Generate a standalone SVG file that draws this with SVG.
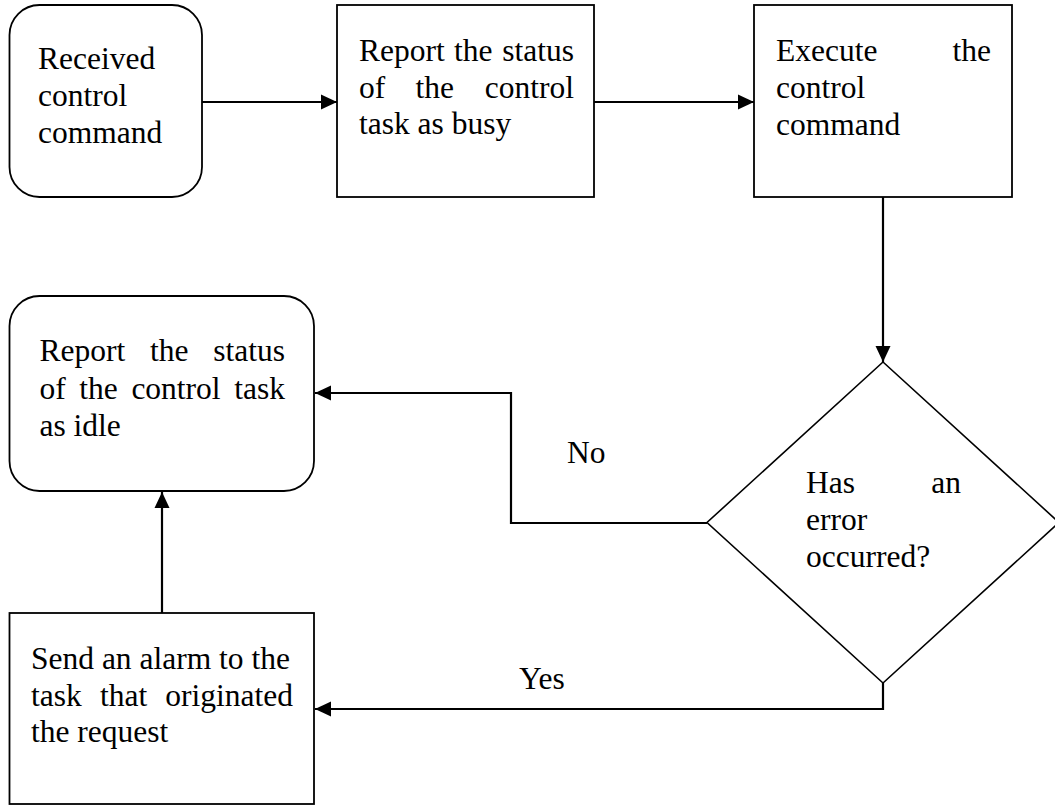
<svg xmlns="http://www.w3.org/2000/svg" width="1055" height="805" viewBox="0 0 1055 805">
<style>
.box{fill:#fff;stroke:#000;stroke-width:1.8}
.dia{fill:#fff;stroke:#000;stroke-width:1.6}
.con{fill:none;stroke:#000;stroke-width:2.2}
text{font-family:"Liberation Serif","Times New Roman",serif;font-size:31.5px;fill:#000}
</style>
<defs>
<marker id="ah" markerUnits="userSpaceOnUse" markerWidth="16" markerHeight="16" viewBox="0 0 16 16" refX="16" refY="8" orient="auto">
<path d="M0,0.5 L16,8 L0,15.5 Z" fill="#000"/>
</marker>
</defs>
<rect width="1055" height="805" fill="#fff"/>
<g id="connectors">
<line class="con" x1="202" y1="102" x2="337" y2="102" marker-end="url(#ah)"/>
<line class="con" x1="594" y1="102" x2="754" y2="102" marker-end="url(#ah)"/>
<line class="con" x1="883" y1="197" x2="883" y2="362" marker-end="url(#ah)"/>
<polyline class="con" points="707,523 511,523 511,393 315,393" marker-end="url(#ah)"/>
<polyline class="con" points="883,683 883,709 315,709" marker-end="url(#ah)"/>
<line class="con" x1="162" y1="613" x2="162" y2="492" marker-end="url(#ah)"/>
<text x="567" y="463">No</text>
<text x="519" y="689">Yes</text>
</g>
<g id="received">
<rect class="box" x="9.5" y="5" width="192.5" height="192" rx="30"/>
<text x="38" y="69">Received</text>
<text x="38" y="106">control</text>
<text x="38" y="143">command</text>
</g>
<g id="report-busy">
<rect class="box" x="337" y="5" width="257" height="192"/>
<text x="359" y="61">Report</text><text x="454" y="61">the</text><text x="574" y="61" text-anchor="end">status</text>
<text x="359" y="98">of</text><text x="415.5" y="98">the</text><text x="574" y="98" text-anchor="end">control</text>
<text x="359" y="134">task as busy</text>
</g>
<g id="execute">
<rect class="box" x="754" y="5" width="258" height="192"/>
<text x="776" y="61">Execute</text><text x="991" y="61" text-anchor="end">the</text>
<text x="776" y="98">control</text>
<text x="776" y="135">command</text>
</g>
<g id="decision">
<polygon class="dia" points="883,362 1059,522.5 883,683 707,522.5"/>
<text x="806" y="493">Has</text><text x="961" y="493" text-anchor="end">an</text>
<text x="806" y="530">error</text>
<text x="806" y="567">occurred?</text>
</g>
<g id="report-idle">
<rect class="box" x="9.5" y="296" width="304.5" height="195" rx="30"/>
<text x="39.5" y="361">Report</text><text x="150" y="361">the</text><text x="285" y="361" text-anchor="end">status</text>
<text x="39.5" y="399">of</text><text x="79.3" y="399">the</text><text x="131.4" y="399">control</text><text x="285" y="399" text-anchor="end">task</text>
<text x="39.5" y="436">as idle</text>
</g>
<g id="alarm">
<rect class="box" x="9.5" y="613" width="304.5" height="191"/>
<text x="31" y="669">Send an alarm to the</text>
<text x="31" y="706">task</text><text x="100" y="706">that</text><text x="293" y="706" text-anchor="end">originated</text>
<text x="31" y="742">the request</text>
</g>
</svg>
